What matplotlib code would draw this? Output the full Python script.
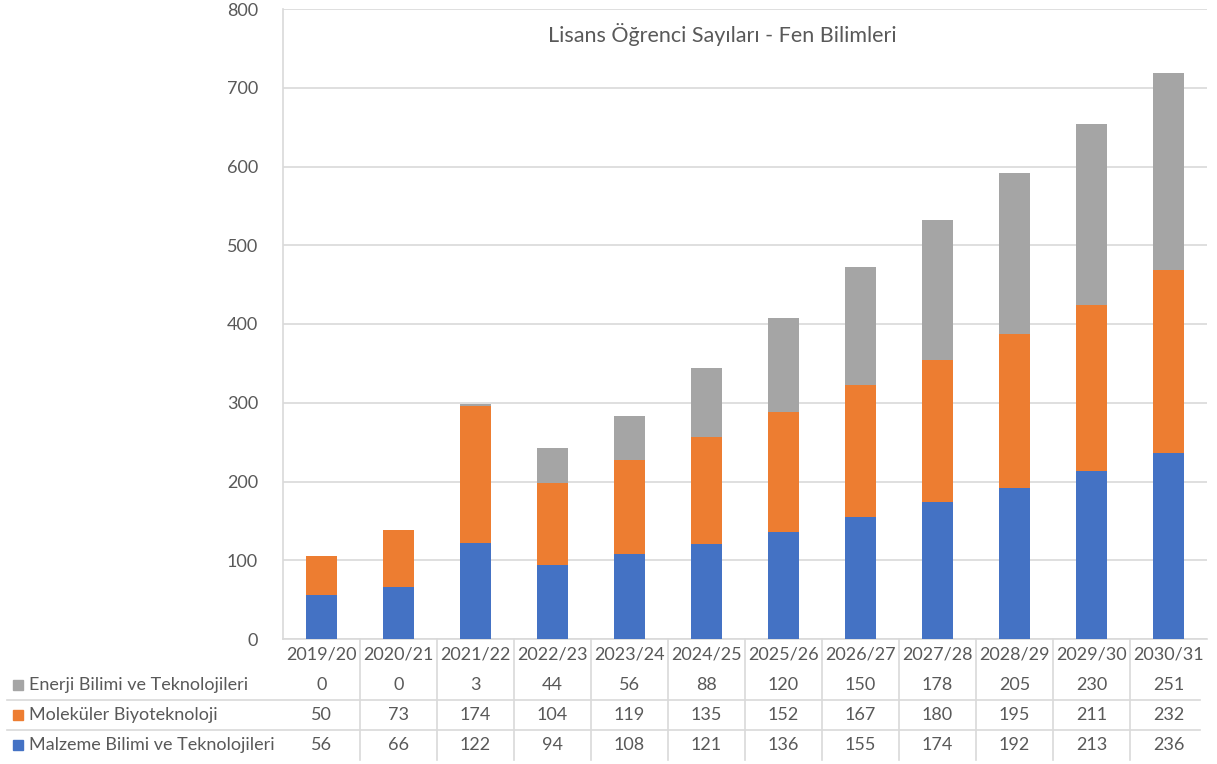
import matplotlib
matplotlib.use('Agg')
import matplotlib.pyplot as plt
import matplotlib.transforms as mtransforms
import numpy as np

plt.rcParams['font.family'] = ['Lato', 'DejaVu Sans']

years = ['2019/20', '2020/21', '2021/22', '2022/23', '2023/24', '2024/25',
         '2025/26', '2026/27', '2027/28', '2028/29', '2029/30', '2030/31']
malzeme = [56, 66, 122, 94, 108, 121, 136, 155, 174, 192, 213, 236]
molekuler = [50, 73, 174, 104, 119, 135, 152, 167, 180, 195, 211, 232]
enerji = [0, 0, 3, 44, 56, 88, 120, 150, 178, 205, 230, 251]

series_names = ['Enerji Bilimi ve Teknolojileri', 'Moleküler Biyoteknoloji',
                'Malzeme Bilimi ve Teknolojileri']
c_blue = '#4472C4'
c_orange = '#ED7D31'
c_gray = '#A5A5A5'
txt = '#595959'
grid_c = '#D9D9D9'

W, H = 1217, 764
fig = plt.figure(figsize=(W / 100, H / 100), dpi=100)
ax_l, ax_r, ax_t, ax_b = 283, 1207, 9, 639
ax = fig.add_axes([ax_l / W, 1 - ax_b / H, (ax_r - ax_l) / W, (ax_b - ax_t) / H])

x = np.arange(len(years))
bw = 0.40
b1 = np.array(malzeme)
b2 = b1 + np.array(molekuler)
ax.bar(x, malzeme, bw, color=c_blue, zorder=3)
ax.bar(x, molekuler, bw, bottom=b1, color=c_orange, zorder=3)
ax.bar(x, enerji, bw, bottom=b2, color=c_gray, zorder=3)

ax.set_xlim(-0.5, len(years) - 0.5)
ax.set_ylim(0, 800)
ax.set_yticks(range(0, 801, 100))
ax.tick_params(axis='y', length=0, pad=18, labelsize=13, labelcolor=txt)
ax.set_xticks([])
ax.yaxis.grid(True, color=grid_c, linewidth=1.2, zorder=0)
for s in ['top', 'right']:
    ax.spines[s].set_visible(False)
ax.spines['left'].set_color(grid_c)
ax.spines['bottom'].set_color(grid_c)
ax.spines['left'].set_linewidth(1.2)
ax.spines['bottom'].set_linewidth(1.2)

fig.text(722 / W, 1 - 34 / H, 'Lisans Öğrenci Sayıları - Fen Bilimleri',
         ha='center', va='center', fontsize=15.5, color=txt)

# data table under the chart
ah = ax_b - ax_t
aw = ax_r - ax_l
def ay(py):
    return -(py - ax_b) / ah

trans = mtransforms.blended_transform_factory(ax.transData, ax.transAxes)

for i, yl in enumerate(years):
    ax.text(i, ay(655), yl, transform=trans, ha='center', va='center',
            fontsize=13, color=txt, clip_on=False)

rows = [(enerji, c_gray, 685), (molekuler, c_orange, 715), (malzeme, c_blue, 745)]
for (vals, col, py), name in zip(rows, series_names):
    for i, v in enumerate(vals):
        ax.text(i, ay(py), str(v), transform=trans, ha='center', va='center',
                fontsize=13, color=txt, clip_on=False)
    ax.text((29 - ax_l) / aw, ay(py), name, transform=ax.transAxes,
            ha='left', va='center', fontsize=13, color=txt, clip_on=False)
    ax.add_patch(plt.Rectangle(((13 - ax_l) / aw, ay(py + 5)), 10 / aw, 10 / ah,
                               transform=ax.transAxes, color=col, clip_on=False))

# table lines
for k in range(1, len(years)):
    ax.plot([k - 0.5, k - 0.5], [0, ay(760)], transform=trans, color=grid_c,
            linewidth=1.2, clip_on=False)
for py in [700, 730]:
    ax.plot([(7 - ax_l) / aw, (1200 - ax_l) / aw], [ay(py), ay(py)],
            transform=ax.transAxes, color=grid_c, linewidth=1.2, clip_on=False)

fig.savefig('out.png', dpi=100)
